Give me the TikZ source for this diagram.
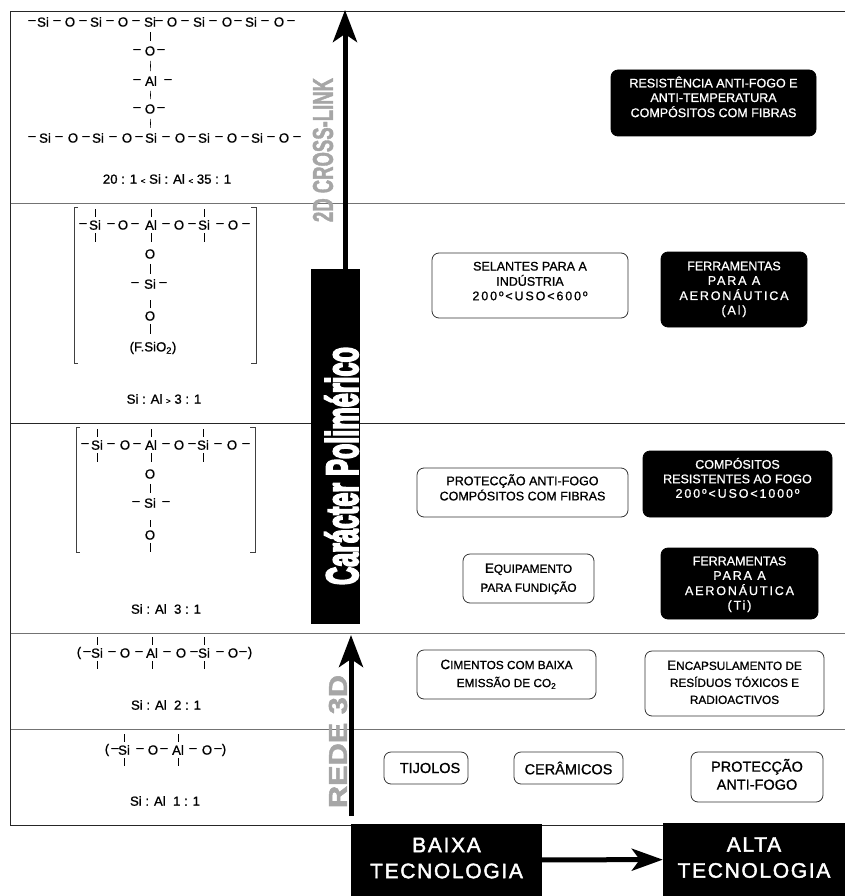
\documentclass[tikz,border=0pt]{standalone}
\usepackage{fontspec}
\setmainfont[FakeBold=1]{Liberation Sans}
\newfontfamily\spacedfont[LetterSpace=15,FakeBold=1]{Liberation Sans}
\newfontfamily\bannerfont[LetterSpace=8,FakeBold=2]{Liberation Sans}
\newfontfamily\heavyfont[FakeBold=5]{Liberation Sans Bold}
\newfontfamily\greyfont[FakeBold=2]{Liberation Sans Bold}
\usetikzlibrary{arrows.meta}
\newcommand{\chemrow}[3]{\foreach \x/\t in {#3} \node[atom] (#1\x) at (\x,#2) {\t};}
\newcommand{\boxlines}[2]{\raisebox{#1}[\height][\depth]{\begin{tabular}{@{}c@{}}#2\end{tabular}}}
\newcommand{\capl}[1]{{\fontsize{13.5}{14}\selectfont #1}}
\tikzset{
	atom/.style={inner sep=3pt, font=\fontsize{13.2}{14}\selectfont},
	ratio/.style={font=\fontsize{13.2}{14}\selectfont},
	bond/.style={line width=0.6pt, shorten <=2pt, shorten >=2pt},
	tick/.style={line width=0.6pt},
	bracket/.style={line width=0.7pt, color=black!75},
	darkline/.style={line width=0.9pt, color=black!85},
	greyline/.style={line width=0.9pt, color=black!55},
	whitebox/.style={draw=black!80, line width=0.8pt, rounded corners=7pt, inner sep=0pt, font=\fontsize{12.5}{14.5}\selectfont},
	blackbox/.style={whitebox, fill=black, draw=black, text=white},
	banner/.style={fill=black, text=white, inner sep=0pt, font=\bannerfont\fontsize{21}{26}\selectfont},
	greytext/.style={rotate=90, text=black!35, inner sep=0pt, font=\greyfont},
	upper/.style={-{Stealth[length=32pt, width=24pt, inset=8pt]}, line width=5pt},
	righter/.style={-{Stealth[length=31pt, width=22pt, inset=8pt]}, line width=5pt}
}
\begin{document}
\begin{tikzpicture}[x=1pt, y=-1pt]
	\useasboundingbox (0,0) rectangle (845,896);
	%%%%% FRAME %%%%%
	\draw[darkline] (845,11) -- (10.5,11) -- (10.5,825.5) -- (845,825.5);
	\draw[darkline] (10.5,423) -- (845,423);
	\draw[greyline] (10.5,203) -- (845,203);
	\draw[greyline] (10.5,633) -- (845,633);
	\draw[greyline] (10.5,729) -- (845,729);

	%%%%% VERTICAL AXIS %%%%%
	\node[greytext] (crosslink) at (323,150) {\resizebox{144pt}{20pt}{2D CROSS-LINK}};
	\node[greytext] (rede) at (338,741.5) {\resizebox{133pt}{18pt}{REDE 3D}};
	\node[fill=black, minimum width=49pt, minimum height=355pt, inner sep=0pt] (bar) at (335.5,446.5) {};
	\node[rotate=90, text=white, inner sep=0pt, font=\heavyfont] (polimerico) at (341.5,466) {\resizebox{238pt}{33pt}{Carácter Polimérico}};
	\coordinate (crosstip) at (345,10);
	\coordinate (redestart) at (351,816);
	\coordinate (redetip) at (351,635);
	\draw[upper] (crosstip |- bar.north) -- (crosstip);
	\draw[upper] (redestart) -- (redetip);

	%%%%% CHAINS %%%%%
	\chemrow{top}{22}{32/–,43/Si,57/–,70/O,83/–,96/Si,110/–,123/O,136/–,150/Si,159/–,172/O,185/–,199/Si,213/–,227/O,238/–,251/Si,265/–,279/O,291/–}
	\chemrow{one}{51}{137/–,150/O,161/–}
	\chemrow{two}{81}{137/–,151/Al,168/–}
	\chemrow{thr}{109}{137/–,150/O,161/–}
	\chemrow{low}{138}{32/–,45/Si,59/–,73/O,86/–,98/Si,113/–,127/O,139/–,151/Si,166/–,180/O,192/–,204/Si,219/–,232/O,245/–,257/Si,271/–,284/O,297/–}
	\draw[bond] (top150) -- (one150);
	\draw[bond] (one150) -- (two151);
	\draw[bond] (two151) -- (thr150);
	\draw[bond] (thr150) -- (low151);
	\node[ratio] (ratiotop) at (167,179) {20 : 1 {\footnotesize<} Si : Al {\footnotesize<} 35 : 1};

	\chemrow{sec}{225}{83/–,95/Si,111/–,123/O,135/–,151/Al,166/–,179/O,192/–,204/Si,220/–,233/O,246/–}
	\chemrow{seca}{254}{150/O}
	\chemrow{secb}{284}{135/–,150/Si,163/–}
	\chemrow{secc}{316}{150/O}
	\node[ratio] (fsio) at (153,348) {(F.SiO\textsubscript{2})};
	\foreach \n in {sec95,sec151,sec204}{
		\draw[tick] (\n.north) -- ++(0,-8);
		\draw[tick] (\n.south) -- ++(0,9);
	}
	\draw[bond] (seca150) -- (secb150);
	\draw[tick] (secc150.north) -- ++(0,-8);
	\draw[tick] (secc150.south) -- ++(0,10);
	\draw[bracket] (78,207) -- (74,207) -- (74,363) -- (78,363);
	\draw[bracket] (251,207) -- (256,207) -- (256,363) -- (251,363);
	\node[ratio] (ratiosec) at (164,399) {Si : Al {\footnotesize>} 3 : 1};

	\chemrow{thi}{445}{85/–,97/Si,111/–,125/O,137/–,151/Al,166/–,179/O,192/–,203/Si,218/–,232/O,246/–}
	\chemrow{thia}{474}{150/O}
	\chemrow{thib}{503}{136/–,150/Si,166/–}
	\chemrow{thic}{535}{150/O}
	\foreach \n in {thi97,thi151,thi203}{
		\draw[tick] (\n.north) -- ++(0,-8);
		\draw[tick] (\n.south) -- ++(0,9);
	}
	\draw[bond] (thia150) -- (thib150);
	\draw[tick] (thic150.north) -- ++(0,-7);
	\draw[tick] (thic150.south) -- ++(0,9);
	\draw[bracket] (80,427) -- (76,427) -- (76,552) -- (80,552);
	\draw[bracket] (250,427) -- (255,427) -- (255,552) -- (250,552);
	\node[ratio] (ratiothi) at (166,609) {Si : Al\ \ 3 : 1};

	\chemrow{fou}{653}{79/(,87/–,97/Si,112/–,125/O,139/–,152/Al,167/–,181/O,194/–,204/Si,220/–,233/O,243/–,250/)}
	\foreach \n in {fou97,fou152,fou204}{
		\draw[tick] (\n.north) -- ++(0,-8);
		\draw[tick] (\n.south) -- ++(0,8);
	}
	\node[ratio] (ratiofou) at (166,705) {Si : Al\ \ 2 : 1};

	\chemrow{fif}{750}{107/(,115/–,124/Si,140/–,153/O,164/–,178/Al,193/–,207/O,218/–,224/)}
	\foreach \n in {fif124,fif178}{
		\draw[tick] (\n.north) -- ++(0,-8);
		\draw[tick] (\n.south) -- ++(0,8);
	}
	\node[ratio] (ratiofif) at (165,801) {Si : Al\ \ 1 : 1};

	%%%%% APPLICATIONS %%%%%
	\node[blackbox, minimum width=205pt, minimum height=66pt] (resistencia) at (713.5,103) {\boxlines{4pt}{RESISTÊNCIA ANTI-FOGO E\\ANTI-TEMPERATURA\\COMPÓSITOS COM FIBRAS}};
	\node[whitebox, minimum width=196pt, minimum height=65pt] (selantes) at (530,285.5) {\boxlines{3pt}{SELANTES PARA A\\INDÚSTRIA\\{\spacedfont 200º<USO<600º}}};
	\node[blackbox, minimum width=146pt, minimum height=75pt] (ferral) at (734,289.5) {\boxlines{0pt}{FERRAMENTAS\\{\spacedfont PARA A}\\{\spacedfont AERONÁUTICA}\\{\spacedfont (Al)}}};
	\node[whitebox, minimum width=211pt, minimum height=49pt] (protfibras) at (522.5,492.5) {\boxlines{3pt}{PROTECÇÃO ANTI-FOGO\\COMPÓSITOS COM FIBRAS}};
	\node[blackbox, minimum width=189pt, minimum height=66pt] (compositos) at (737.5,484) {\boxlines{4pt}{COMPÓSITOS\\RESISTENTES AO FOGO\\{\spacedfont 200º<USO<1000º}}};
	\node[whitebox, minimum width=131pt, minimum height=49pt, font=\fontsize{11.8}{19}\selectfont] (equipamento) at (528.5,578.5) {\boxlines{0pt}{\capl{E}QUIPAMENTO\\PARA FUNDIÇÃO}};
	\node[blackbox, minimum width=157pt, minimum height=71pt] (ferrti) at (739.5,583.5) {\boxlines{-1pt}{FERRAMENTAS\\{\spacedfont PARA A}\\{\spacedfont AERONÁUTICA}\\{\spacedfont (Ti)}}};
	\node[whitebox, minimum width=179pt, minimum height=49pt, font=\fontsize{11.8}{18}\selectfont] (cimentos) at (506.5,674.5) {\boxlines{0pt}{\capl{C}IMENTOS COM BAIXA\\EMISSÃO DE CO\textsubscript{2}}};
	\node[whitebox, minimum width=179pt, minimum height=65pt, font=\fontsize{11.8}{17}\selectfont] (encaps) at (734.5,683.5) {\boxlines{0pt}{\capl{E}NCAPSULAMENTO DE\\RESÍDUOS TÓXICOS E\\RADIOACTIVOS}};
	\node[whitebox, minimum width=84pt, minimum height=32pt, font=\fontsize{14.5}{18}\selectfont] (tijolos) at (426,768) {\hspace*{8pt}TIJOLOS};
	\node[whitebox, minimum width=109pt, minimum height=32pt, font=\fontsize{14.5}{18}\selectfont] (ceramicos) at (568.5,768) {CERÂMICOS};
	\node[whitebox, minimum width=132pt, minimum height=50pt, font=\fontsize{14.5}{18}\selectfont] (protecao) at (757,777) {\boxlines{0pt}{PROTECÇÃO\\ANTI-FOGO}};

	%%%%% TECHNOLOGY %%%%%
	\node[banner, minimum width=191pt, minimum height=72pt] (baixa) at (446.5,860) {\begin{tabular}{@{}c@{}}BAIXA\\TECNOLOGIA\end{tabular}};
	\node[banner, minimum width=182pt, minimum height=73pt] (alta) at (754,859.5) {\begin{tabular}{@{}c@{}}ALTA\\TECNOLOGIA\end{tabular}};
	\draw[righter] (baixa) -- (alta);
\end{tikzpicture}
\end{document}
